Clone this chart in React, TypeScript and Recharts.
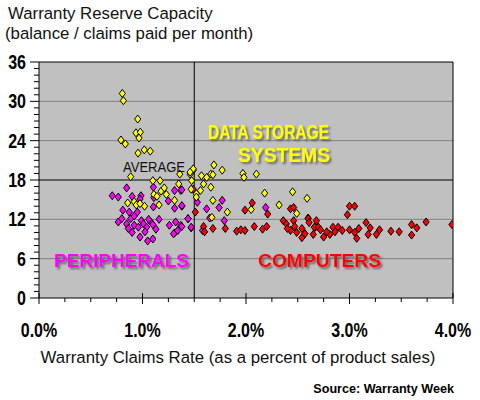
import React from 'react';
import { ScatterChart, Scatter, XAxis, YAxis, ReferenceLine, ReferenceArea } from 'recharts';

// Data storage systems (claims rate %, reserve capacity months)
const storagePoints: [number, number][] = [
  [0.805, 31.2], [0.815, 30.1], [0.954, 27.3], [0.937, 25.2], [0.979, 25.3], [0.966, 24.4],
  [0.792, 24.1], [0.834, 23.5], [0.957, 22.1], [1.017, 22.6], [1.075, 22.4], [0.886, 18.5],
  [1.10, 17.9], [1.17, 17.9], [1.36, 18.9], [1.35, 17.4], [1.46, 18.9], [1.49, 19.5],
  [1.475, 17.9], [1.11, 15.8], [1.18, 16.3], [1.23, 15.8], [1.14, 15.5], [0.857, 14.5],
  [0.92, 14.7], [0.94, 14.2], [0.976, 14.4], [1.16, 14.2], [1.31, 14.9], [1.52, 15.9],
  [1.47, 16.6], [1.69, 20.3], [1.77, 19.5], [1.66, 18.9], [1.68, 18.8], [1.57, 18.65],
  [1.62, 18.4], [1.49, 19.7], [1.46, 19.2], [1.97, 19.0], [1.98, 18.4], [2.10, 18.9],
  [1.59, 17.4], [1.66, 16.9], [1.56, 16.4], [1.52, 15.4], [1.68, 14.9], [2.18, 16.0],
  [2.45, 16.2], [2.59, 15.2], [2.32, 14.2], [2.05, 13.5], [1.82, 13.1], [1.67, 12.3],
  [2.49, 12.9], [1.21, 16.8], [1.02, 14.0],
];

// Peripherals
const peripheralPoints: [number, number][] = [
  [0.847, 16.8], [1.105, 16.9], [0.708, 15.6], [0.766, 15.4], [0.90, 15.5], [0.985, 15.6],
  [0.976, 15.1], [1.11, 15.3], [1.105, 13.9], [1.25, 14.8], [1.31, 16.4], [1.37, 16.4],
  [1.31, 13.7], [1.38, 14.0], [0.81, 13.4], [0.872, 13.1], [0.95, 13.1], [0.766, 11.6],
  [0.80, 12.1], [0.847, 11.3], [0.886, 12.1], [0.92, 11.1], [0.863, 10.6], [0.99, 11.8],
  [1.01, 11.3], [0.96, 10.8], [1.04, 10.8], [1.08, 11.6], [1.10, 11.2], [1.16, 12.0],
  [1.024, 10.1], [0.976, 9.3], [1.05, 8.7], [1.10, 9.0], [1.26, 11.1], [1.32, 11.6],
  [1.37, 11.1], [1.31, 9.9], [1.34, 10.3], [1.44, 12.1], [1.47, 10.7], [1.38, 16.5],
  [1.49, 16.6], [1.53, 14.6], [1.38, 14.1], [1.62, 13.6], [1.74, 13.8], [1.77, 14.9],
  [2.19, 13.8], [1.65, 12.2], [1.79, 11.8], [1.44, 12.1], [1.47, 10.8], [1.38, 10.9],
  [1.58, 10.3], [1.30, 9.8], [0.92, 12.5], [1.06, 12.0], [1.13, 10.5], [0.90, 10.0],
];

// Computers
const computerPoints: [number, number][] = [
  [1.51, 13.1], [1.99, 13.4], [2.21, 12.8], [2.43, 13.6], [2.46, 13.8], [2.60, 12.2],
  [1.59, 10.9], [1.60, 10.1], [1.68, 10.6], [1.80, 10.6], [1.91, 10.2], [1.95, 10.4],
  [1.99, 10.3], [2.08, 10.9], [2.16, 10.5], [2.20, 10.9], [2.36, 11.8], [2.39, 11.3],
  [2.46, 11.8], [2.47, 10.9], [2.54, 10.6], [2.43, 10.3], [2.67, 10.8], [2.68, 11.8],
  [2.06, 14.5], [2.54, 9.2], [3.00, 14.0], [3.05, 14.0], [2.98, 12.7], [2.60, 12.1],
  [2.61, 11.5], [2.66, 10.8], [2.70, 10.8], [2.72, 10.4], [2.65, 9.7], [2.75, 9.3],
  [2.84, 10.8], [2.89, 10.8], [2.81, 9.7], [2.86, 10.1], [3.00, 10.4], [3.09, 10.6],
  [3.05, 10.0], [3.07, 9.1], [3.16, 11.5], [3.18, 9.7], [3.20, 10.7], [3.26, 9.7],
  [3.29, 10.4], [3.40, 10.2], [3.48, 10.1], [3.60, 11.2], [3.65, 10.7], [3.60, 9.6],
  [3.74, 11.6], [3.99, 11.2], [2.49, 10.0], [2.40, 10.6], [2.78, 10.1], [2.93, 10.3],
  [2.57, 9.8],
];

const xTicks = [0, 0.25, 0.5, 0.75, 1, 1.25, 1.5, 1.75, 2, 2.25, 2.5, 2.75, 3, 3.25, 3.5, 3.75, 4];
const xMajorTicks = [0, 1, 2, 3, 4];
const yTicks = [0, 1, 2, 3, 4, 5, 6, 7, 8, 9, 10, 11, 12, 13, 14, 15, 16, 17, 18, 19, 20, 21, 22, 23, 24, 25, 26, 27, 28, 29, 30, 31, 32, 33, 34, 35, 36];
const yMajorTicks = [0, 6, 12, 18, 24, 30, 36];
const gridLevels = [6, 12, 24, 30];
const averageRate = 1.5;
const averageCapacity = 18;

const textFont = "'Liberation Sans', Arial, sans-serif";

const toObjects = (pts: [number, number][]) => pts.map(([x, y]) => ({ x, y }));

const diamond = (fill: string) => (props: any) => {
  const { cx, cy } = props;
  if (cx == null || cy == null) return <g />;
  return (
    <path
      d={`M${cx},${cy - 4}L${cx + 3.1},${cy}L${cx},${cy + 4}L${cx - 3.1},${cy}Z`}
      fill={fill}
      stroke="#000"
      strokeWidth={1}
    />
  );
};

const XTick = (props: any) => {
  const { x, y, payload } = props;
  const v = payload.value;
  const major = xMajorTicks.includes(v);
  return (
    <g>
      <line x1={x} x2={x} y1={major ? y - 5 : y} y2={major ? y + 6 : y + 4} stroke="#000" strokeWidth={1} />
      {major && (
        <g transform={`translate(${x},${y + 39}) scale(0.8,1)`}>
          <text x={0} y={0} textAnchor="middle" fontFamily={textFont} fontWeight="bold" fontSize={20} fill="#000">
            {v.toFixed(1)}%
          </text>
        </g>
      )}
    </g>
  );
};

const YTick = (props: any) => {
  const { x, y, payload } = props;
  const v = payload.value;
  const major = yMajorTicks.includes(v);
  return (
    <g>
      <line x1={major ? x - 9 : x - 5} x2={x} y1={y} y2={y} stroke="#000" strokeWidth={1} />
      {major && (
        <g transform={`translate(${x - 13},${y + 7}) scale(0.8,1)`}>
          <text x={0} y={0} textAnchor="end" fontFamily={textFont} fontWeight="bold" fontSize={20} fill="#000">
            {v}
          </text>
        </g>
      )}
    </g>
  );
};

export default function App() {
  return (
    <div style={{ position: 'absolute', left: 0, top: 0, width: 480, height: 400, background: '#fff' }}>
      <ScatterChart width={480} height={400} margin={{ top: 62, right: 27, bottom: 0, left: 0 }}>
        <XAxis
          type="number"
          dataKey="x"
          domain={[0, 4]}
          ticks={xTicks}
          interval={0}
          tickSize={0}
          tickMargin={0}
          tickLine={false}
          tick={XTick}
          height={102}
          axisLine={{ stroke: '#000' }}
          allowDataOverflow
        />
        <YAxis
          type="number"
          dataKey="y"
          domain={[0, 36]}
          ticks={yTicks}
          interval={0}
          tickSize={0}
          tickMargin={0}
          tickLine={false}
          tick={YTick}
          width={39}
          axisLine={{ stroke: '#000' }}
          allowDataOverflow
        />
        <ReferenceArea x1={0} x2={4} y1={0} y2={36} fill="#c0c0c0" fillOpacity={1} stroke="none" />
        {gridLevels.map((g) => (
          <ReferenceLine key={g} y={g} stroke="#808080" strokeWidth={1} />
        ))}
        <ReferenceLine y={36} stroke="#000" strokeWidth={1} />
        <ReferenceLine x={4} stroke="#000" strokeWidth={1} />
        <ReferenceLine y={averageCapacity} stroke="#000" strokeWidth={1} />
        <ReferenceLine x={averageRate} stroke="#000" strokeWidth={1} />
        <Scatter data={toObjects(peripheralPoints)} shape={diamond('#ff00ff')} isAnimationActive={false} />
        <Scatter data={toObjects(storagePoints)} shape={diamond('#ffff00')} isAnimationActive={false} />
        <Scatter data={toObjects(computerPoints)} shape={diamond('#ff0000')} isAnimationActive={false} />
      </ScatterChart>
      <svg width={480} height={400} style={{ position: 'absolute', left: 0, top: 0, pointerEvents: 'none' }}>
        <defs>
          <filter id="shadow" x="-10%" y="-30%" width="130%" height="180%">
            <feDropShadow dx="2" dy="2" stdDeviation="0.9" floodColor="#555" floodOpacity="0.85" />
          </filter>
        </defs>
        <text x={8} y={18.5} fontFamily={textFont} fontSize={16.8} fill="#111">Warranty Reserve Capacity</text>
        <text x={5} y={38.5} fontFamily={textFont} fontSize={16.8} fill="#111">(balance / claims paid per month)</text>
        <text x={123} y={172} fontFamily={textFont} fontSize={14} fill="#111" textLength={62} lengthAdjust="spacingAndGlyphs">AVERAGE</text>
        <g filter="url(#shadow)" fontFamily={textFont} fontWeight="bold">
          <text x={208} y={138.5} fontSize={21} fill="#ffff00" textLength={121} lengthAdjust="spacingAndGlyphs">DATA STORAGE</text>
          <text x={238} y={162} fontSize={21} fill="#ffff00" textLength={92} lengthAdjust="spacingAndGlyphs">SYSTEMS</text>
          <text x={54} y={267} fontSize={18} fill="#ff00ff" textLength={135} lengthAdjust="spacingAndGlyphs">PERIPHERALS</text>
          <text x={258} y={267} fontSize={18} fill="#ff0000" textLength={123} lengthAdjust="spacingAndGlyphs">COMPUTERS</text>
        </g>
        <text x={238} y={363} textAnchor="middle" fontFamily={textFont} fontSize={16.8} fill="#111">
          Warranty Claims Rate (as a percent of product sales)
        </text>
        <text x={454} y={393} textAnchor="end" fontFamily={textFont} fontWeight="bold" fontSize={12.6} fill="#000">
          Source: Warranty Week
        </text>
      </svg>
    </div>
  );
}
